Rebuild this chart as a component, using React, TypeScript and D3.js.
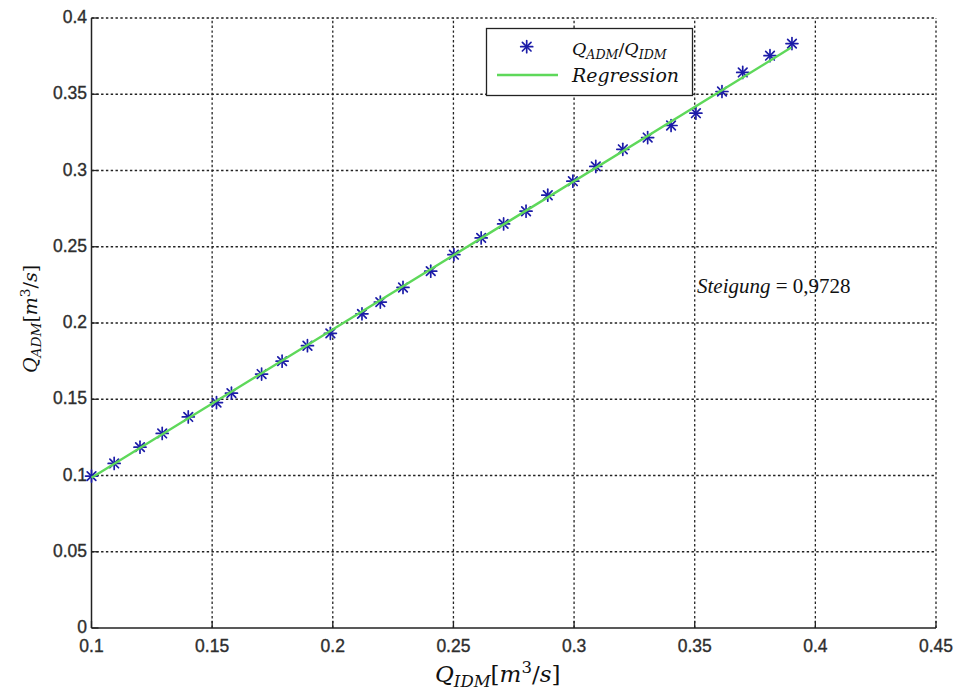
import React from 'react';
import * as d3 from 'd3';

// measured points Q_IDM / Q_ADM (m^3/s)
const qIdm = [0.1, 0.1094, 0.1201, 0.1293, 0.1401, 0.1518, 0.158, 0.1705, 0.179, 0.1895, 0.199,
  0.2121, 0.2197, 0.2291, 0.2406, 0.2502, 0.2615, 0.2708, 0.2801, 0.2891, 0.2995, 0.309,
  0.3202, 0.3305, 0.3402, 0.3505, 0.3613, 0.3699, 0.3812, 0.3903];
const qAdm = [0.0996, 0.1079, 0.1186, 0.1276, 0.1384, 0.1478, 0.154, 0.1665, 0.175, 0.1851, 0.1932,
  0.206, 0.2137, 0.2233, 0.234, 0.2448, 0.2558, 0.265, 0.2733, 0.2838, 0.293, 0.3027,
  0.3139, 0.3216, 0.3295, 0.3376, 0.3518, 0.3643, 0.3753, 0.3832];

// regression line ends
const regX = [0.1, 0.39];
const regY = [0.0985, 0.3806];

const xTicks = [0.1, 0.15, 0.2, 0.25, 0.3, 0.35, 0.4, 0.45];
const xTickLabels = ['0.1', '0.15', '0.2', '0.25', '0.3', '0.35', '0.4', '0.45'];
const yTicks = [0, 0.05, 0.1, 0.15, 0.2, 0.25, 0.3, 0.35, 0.4];
const yTickLabels = ['0', '0.05', '0.1', '0.15', '0.2', '0.25', '0.3', '0.35', '0.4'];

const W = 960;
const H = 693;
const left = 91.5, right = 936, top = 18, bottom = 628;

const x = d3.scaleLinear().domain([0.1, 0.45]).range([left, right]);
const y = d3.scaleLinear().domain([0, 0.4]).range([bottom, top]);

const mathFont = '"DejaVu Serif", "Liberation Serif", serif';
const tickFont = '"Liberation Sans", Arial, sans-serif';

const Star = ({ cx, cy, r = 6 }: { cx: number; cy: number; r?: number }) => {
  const d = r * 0.72;
  return (
    <g stroke="#1c1ca8" strokeWidth={1.7} strokeLinecap="round">
      <line x1={cx - r} y1={cy} x2={cx + r} y2={cy} />
      <line x1={cx} y1={cy - r} x2={cx} y2={cy + r} />
      <line x1={cx - d} y1={cy - d} x2={cx + d} y2={cy + d} />
      <line x1={cx - d} y1={cy + d} x2={cx + d} y2={cy - d} />
    </g>
  );
};

// Q with a subscript
const QSub = ({ sub, fs }: { sub: string; fs: number }) => (
  <>
    <tspan fontStyle="italic">Q</tspan>
    <tspan fontStyle="italic" fontSize={fs * 0.72} dy={fs * 0.22}>{sub}</tspan>
  </>
);

const UnitLabel = ({ sub, fs }: { sub: string; fs: number }) => (
  <>
    <QSub sub={sub} fs={fs} />
    <tspan dy={-fs * 0.22}>[</tspan>
    <tspan fontStyle="italic">m</tspan>
    <tspan fontSize={fs * 0.72} dy={-fs * 0.38}>3</tspan>
    <tspan dy={fs * 0.38}>/</tspan>
    <tspan fontStyle="italic">s</tspan>
    <tspan>]</tspan>
  </>
);

const App = () => {
  const line = d3.line<number>()
    .x((_, i) => x(regX[i]))
    .y((d) => y(d));

  const grid = { stroke: '#222', strokeWidth: 1.3, strokeDasharray: '2.4,2.4' };
  const tickText = { fontFamily: tickFont, fontSize: 17.5, fill: '#2e2e2e', stroke: '#2e2e2e', strokeWidth: 0.35 };

  return (
    <svg width={W} height={H} style={{ position: 'absolute', left: 0, top: 0, background: '#fff' }}>
      <rect width={W} height={H} fill="#fff" />

      {/* grid */}
      {xTicks.slice(1).map((t) => (
        <line key={'gx' + t} x1={x(t)} x2={x(t)} y1={bottom} y2={top} {...grid} />
      ))}
      {yTicks.slice(1).map((t) => (
        <line key={'gy' + t} x1={left} x2={right} y1={y(t)} y2={y(t)} {...grid} />
      ))}

      {/* ticks, inward */}
      {xTicks.map((t) => (
        <line key={'tx' + t} x1={x(t)} x2={x(t)} y1={bottom} y2={bottom - 7} stroke="#222" strokeWidth={1.3} />
      ))}
      {yTicks.map((t) => (
        <line key={'ty' + t} x1={left} x2={left + 7} y1={y(t)} y2={y(t)} stroke="#222" strokeWidth={1.3} />
      ))}

      {/* axes */}
      <line x1={left} x2={left} y1={top} y2={bottom} stroke="#222" strokeWidth={1.5} />
      <line x1={left} x2={right} y1={bottom} y2={bottom} stroke="#222" strokeWidth={1.5} />

      {/* tick labels */}
      {xTicks.map((t, i) => (
        <text key={'lx' + t} x={x(t)} y={652} textAnchor="middle" {...tickText}>
          {xTickLabels[i]}
        </text>
      ))}
      {yTicks.map((t, i) => (
        <text key={'ly' + t} x={87} y={y(t) + 5} textAnchor="end" {...tickText}>
          {yTickLabels[i]}
        </text>
      ))}

      {/* data */}
      {qIdm.map((v, i) => (
        <Star key={'p' + i} cx={x(v)} cy={y(qAdm[i])} />
      ))}
      <path d={line(regY) || ''} fill="none" stroke="#5ed85a" strokeWidth={2.4} />

      {/* annotation */}
      <text x={697} y={293} fontFamily='"Liberation Serif", serif' fontSize={21} fill="#111">
        <tspan fontStyle="italic">Steigung</tspan>
        <tspan> = 0,9728</tspan>
      </text>

      {/* legend */}
      <rect x={486.5} y={28.5} width={206} height={67} fill="#fff" stroke="#222" strokeWidth={1.3} />
      <Star cx={526.7} cy={46.7} />
      <line x1={497} x2={558} y1={75} y2={75} stroke="#5ed85a" strokeWidth={2.4} />
      <text x={572} y={55} fontFamily={mathFont} fontSize={17.5} fill="#111">
        <QSub sub="ADM" fs={17.5} />
        <tspan dy={-17.5 * 0.22}>/</tspan>
        <QSub sub="IDM" fs={17.5} />
      </text>
      <text x={572} y={82} fontFamily={mathFont} fontSize={18} fill="#111" fontStyle="italic" textLength={107} lengthAdjust="spacingAndGlyphs">
        Regression
      </text>

      {/* axis labels */}
      <text x={435} y={682} fontFamily={mathFont} fontSize={23} fill="#111">
        <UnitLabel sub="IDM" fs={23} />
      </text>
      <text transform="translate(37,373) rotate(-90)" fontFamily={mathFont} fontSize={19} fill="#111">
        <UnitLabel sub="ADM" fs={19} />
      </text>
    </svg>
  );
};

export default App;
